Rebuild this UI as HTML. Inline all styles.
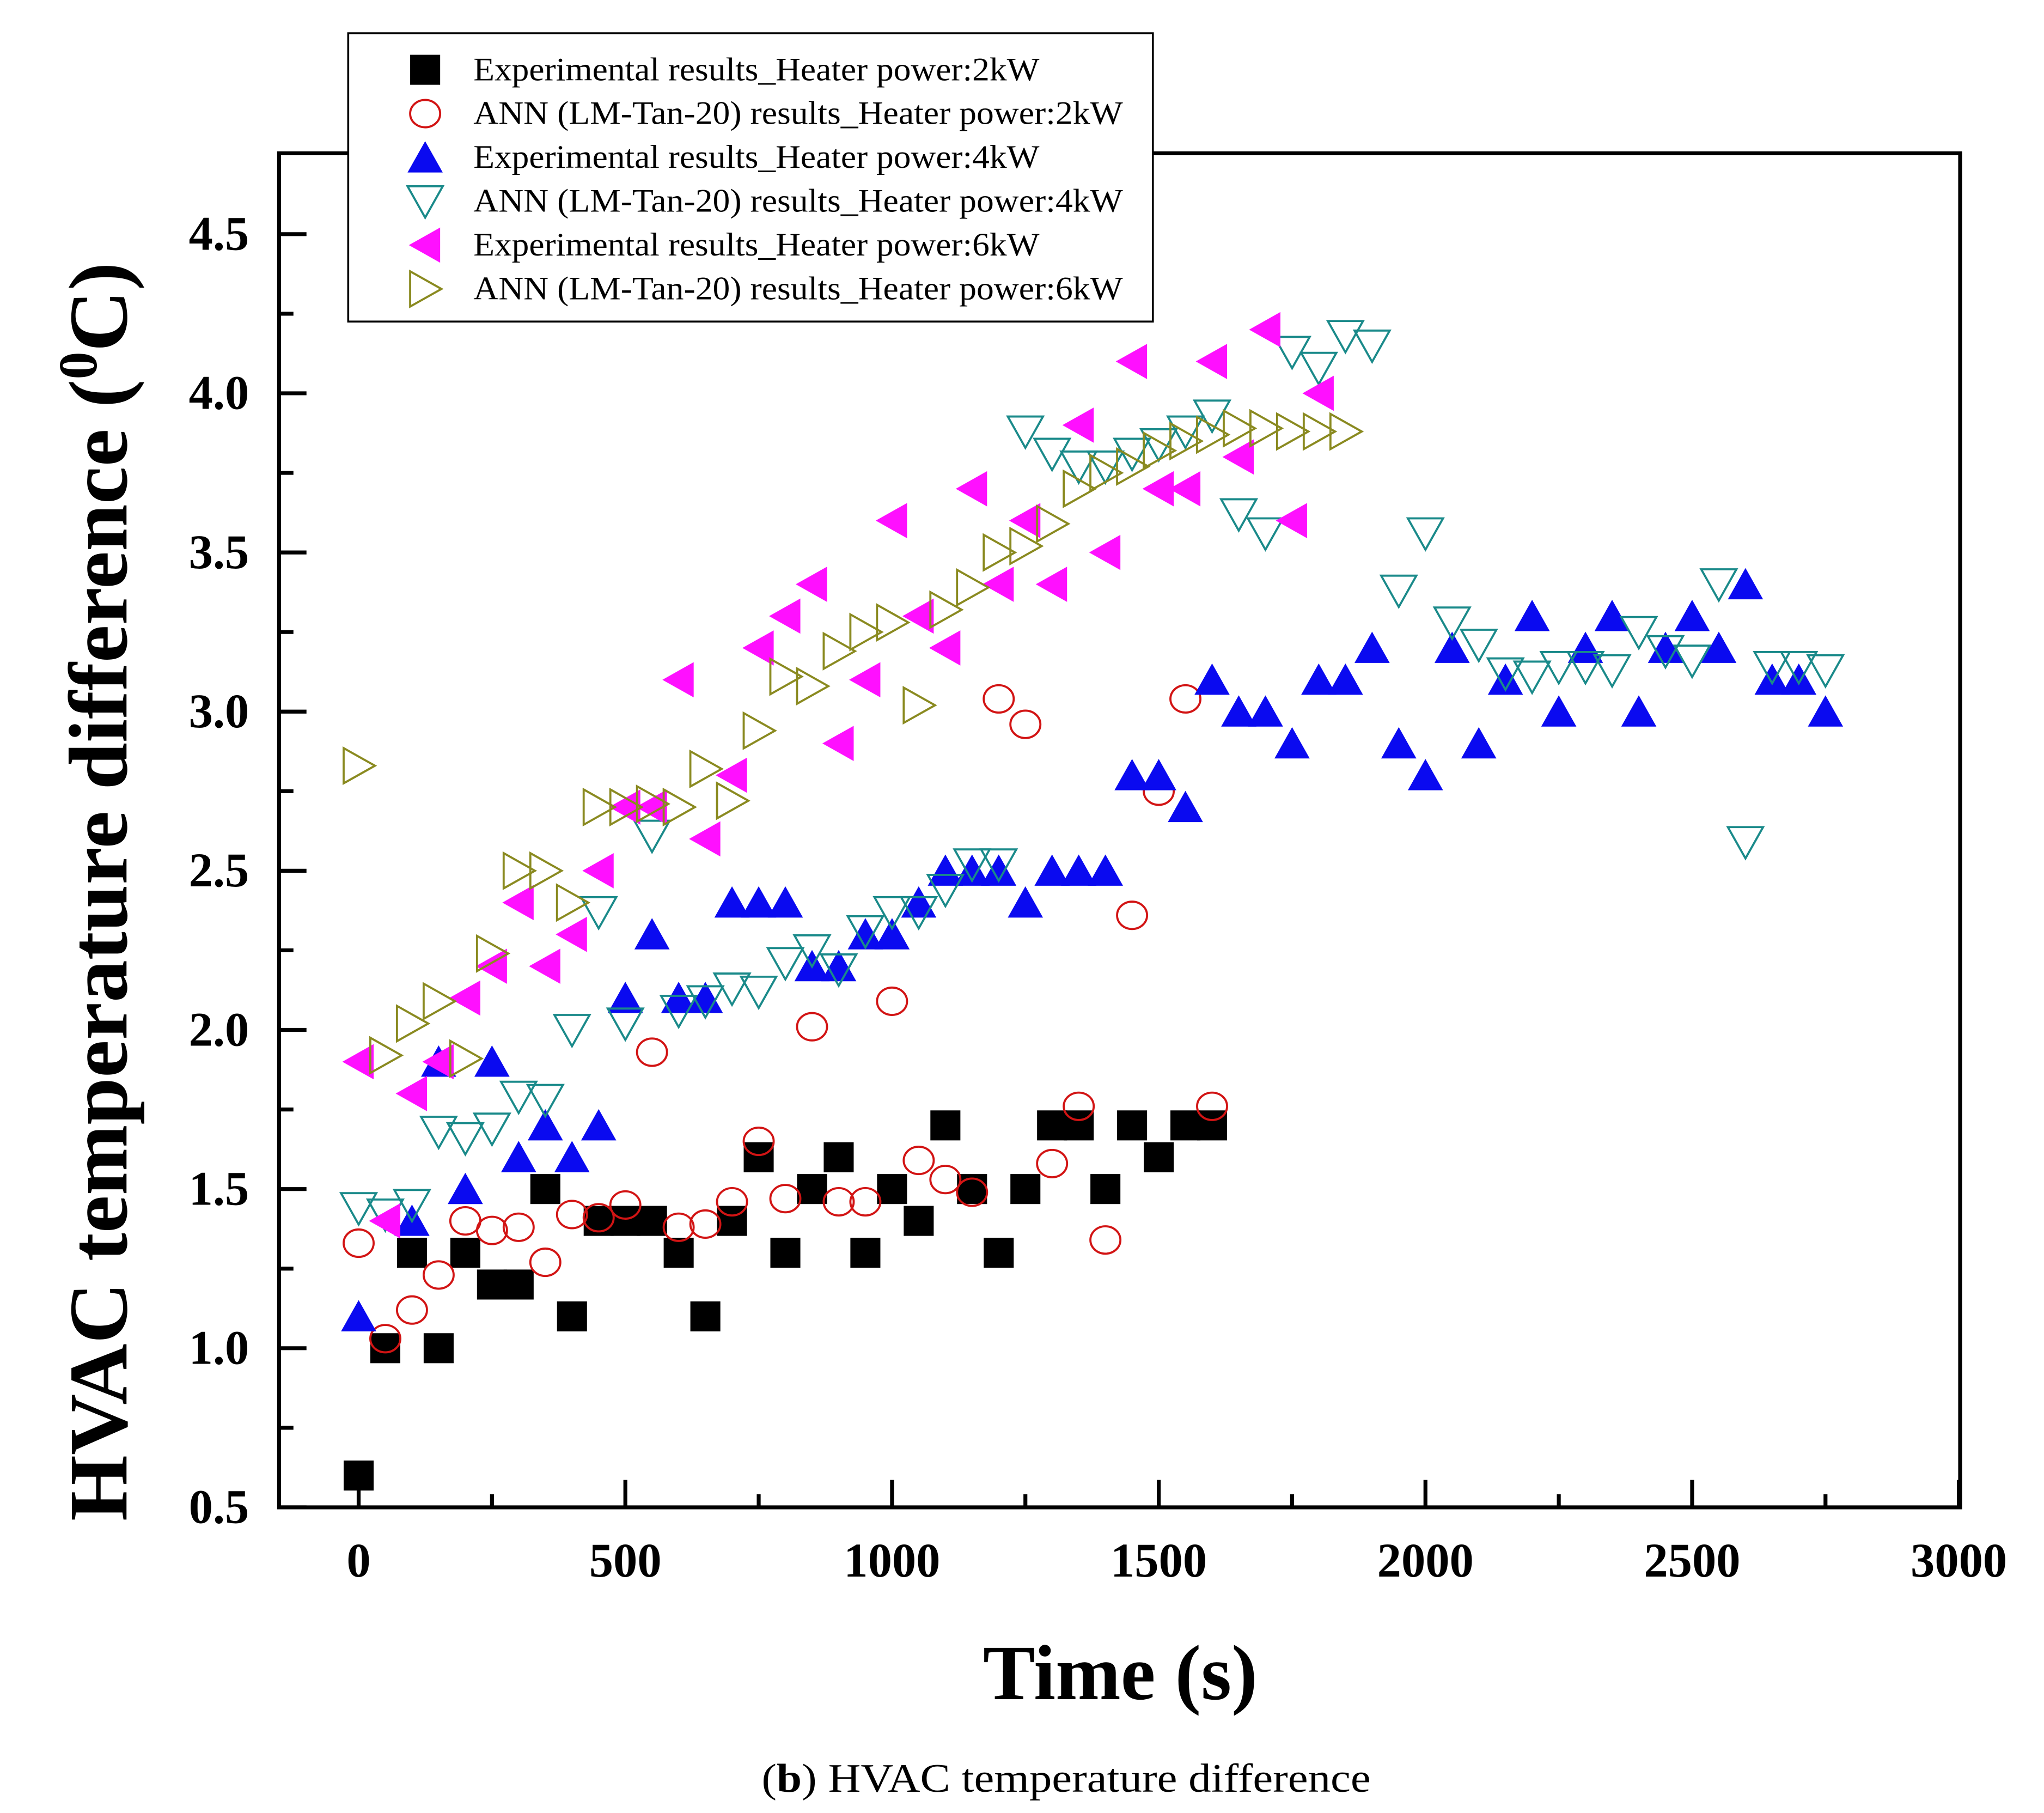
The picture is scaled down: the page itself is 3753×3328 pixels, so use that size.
<!DOCTYPE html>
<html><head><meta charset="utf-8"><style>
html,body{margin:0;padding:0;background:#fff}
svg{display:block}
text{font-family:"Liberation Serif",serif}
</style></head><body>
<svg id="chart" width="3753" height="3328" viewBox="-1 -0.5 1567.3 1389.8" preserveAspectRatio="none" xmlns="http://www.w3.org/2000/svg">
<rect x="-5" y="-5" width="1580" height="1400" fill="#fff"/>
<g id="marks"></g>
<rect x="213" y="117" width="1289" height="1038" fill="none" stroke="#000" stroke-width="3"/>
<g id="axes"></g>
<text transform="translate(96,683) rotate(-90)" text-anchor="middle" font-size="64" font-weight="bold" textLength="965" lengthAdjust="spacingAndGlyphs">HVAC temperature difference (<tspan font-size="42" dy="-23">0</tspan><tspan dy="23">C)</tspan></text>
<text x="858" y="1302" text-anchor="middle" font-size="60" font-weight="bold">Time (s)</text>
<text x="583" y="1373" font-size="31" textLength="467" lengthAdjust="spacingAndGlyphs">(<tspan font-weight="bold">b</tspan>) HVAC temperature difference</text>
<g>
<rect x="266" y="25" width="617" height="221" fill="#fff" stroke="#000" stroke-width="1.5"/>
<g id="legend-items"></g>
</g>
</svg>
<script>
const t2x=[0,50,100,150,200,250,300,350,400,450,500,550,600,650,700,750,800,850,900,950,1000,1050,1100,1150,1200,1250,1300,1350,1400,1450,1500,1550,1600];
const exp2=[0.6,1.0,1.3,1.0,1.3,1.2,1.2,1.5,1.1,1.4,1.4,1.4,1.3,1.1,1.4,1.6,1.3,1.5,1.6,1.3,1.5,1.4,1.7,1.5,1.3,1.5,1.7,1.7,1.5,1.7,1.6,1.7,1.7];
const ann2=[1.33,1.03,1.12,1.23,1.40,1.37,1.38,1.27,1.42,1.41,1.45,1.93,1.38,1.39,1.46,1.65,1.47,2.01,1.46,1.46,2.09,1.59,1.53,1.49,3.04,2.96,1.58,1.76,1.34,2.36,2.75,3.04,1.76];
const t4x=[0,100,150,200,250,300,350,400,450,500,550,600,650,700,750,800,850,900,950,1000,1050,1100,1150,1200,1250,1300,1350,1400,1450,1500,1550,1600,1650,1700,1750,1800,1850,1900,1950,2000,2050,2100,2150,2200,2250,2300,2350,2400,2450,2500,2550,2600,2650,2700,2750];
const exp4=[1.1,1.4,1.9,1.5,1.9,1.6,1.7,1.6,1.7,2.1,2.3,2.1,2.1,2.4,2.4,2.4,2.2,2.2,2.3,2.3,2.4,2.5,2.5,2.5,2.4,2.5,2.5,2.5,2.8,2.8,2.7,3.1,3.0,3.0,2.9,3.1,3.1,3.2,2.9,2.8,3.2,2.9,3.1,3.3,3.0,3.2,3.3,3.0,3.2,3.3,3.2,3.4,3.1,3.1,3.0];
const t4a=[0,50,100,150,200,250,300,350,400,450,500,550,600,650,700,750,800,850,900,950,1000,1050,1100,1150,1200,1250,1300,1350,1400,1450,1500,1550,1600,1650,1700,1750,1800,1850,1900,1950,2000,2050,2100,2150,2200,2250,2300,2350,2400,2450,2500,2550,2600,2650,2700,2750];
const ann4=[1.44,1.42,1.45,1.68,1.66,1.69,1.79,1.78,2.0,2.37,2.02,2.61,2.06,2.09,2.13,2.12,2.21,2.25,2.19,2.31,2.37,2.37,2.44,2.52,2.52,3.88,3.81,3.77,3.77,3.81,3.84,3.88,3.93,3.62,3.56,4.13,4.08,4.18,4.15,3.38,3.56,3.28,3.21,3.12,3.11,3.14,3.14,3.13,3.25,3.19,3.16,3.40,2.59,3.14,3.14,3.13];
const t6x=[0,50,100,150,200,250,300,350,400,450,500,550,600,650,700,750,800,850,900,950,1000,1050,1100,1150,1200,1250,1300,1350,1400,1450,1500,1550,1600,1650,1700,1750,1800];
const exp6=[1.9,1.4,1.8,1.9,2.1,2.2,2.4,2.2,2.3,2.5,2.7,2.7,3.1,2.6,2.8,3.2,3.3,3.4,2.9,3.1,3.6,3.3,3.2,3.7,3.4,3.6,3.4,3.9,3.5,4.1,3.7,3.7,4.1,3.8,4.2,3.6,4.0];
const t6a=[0,50,100,150,200,250,300,350,400,450,500,550,600,650,700,750,800,850,900,950,1000,1050,1100,1150,1200,1250,1300,1350,1400,1450,1500,1550,1600,1650,1700,1750,1800,1850];
const ann6=[2.83,1.92,2.02,2.09,1.91,2.24,2.5,2.5,2.4,2.7,2.7,2.71,2.7,2.82,2.72,2.94,3.11,3.08,3.19,3.25,3.28,3.02,3.32,3.39,3.5,3.52,3.59,3.7,3.75,3.77,3.82,3.85,3.87,3.89,3.89,3.88,3.88,3.88];
const xTicks=[0,500,1000,1500,2000,2500,3000];
const yTicks=[0.5,1.0,1.5,2.0,2.5,3.0,3.5,4.0,4.5];
const legendLabels=["Experimental results_Heater power:2kW","ANN (LM-Tan-20) results_Heater power:2kW","Experimental results_Heater power:4kW","ANN (LM-Tan-20) results_Heater power:4kW","Experimental results_Heater power:6kW","ANN (LM-Tan-20) results_Heater power:6kW"];
const legendWidths=[434,498,434,498,434,498];

const NS="http://www.w3.org/2000/svg";
const X=v=>274+v*(204.5/500);
const Y=v=>1155-(v-0.5)*244;
const S=11.5;
function shape(kind,cx,cy,parent){
  let el;
  if(kind==='sq'){el=document.createElementNS(NS,'rect');el.setAttribute('x',cx-S);el.setAttribute('y',cy-S);el.setAttribute('width',2*S);el.setAttribute('height',2*S);el.setAttribute('fill','#000');}
  else if(kind==='ci'){el=document.createElementNS(NS,'ellipse');el.setAttribute('cx',cx);el.setAttribute('cy',cy);el.setAttribute('rx',S);el.setAttribute('ry',10.5);el.setAttribute('fill','none');el.setAttribute('stroke','#d21414');el.setAttribute('stroke-width','1.6');}
  else{
    el=document.createElementNS(NS,'polygon');let p;
    if(kind==='up')p=[[cx,cy-S-1],[cx-S-2,cy+S],[cx+S+2,cy+S]];
    if(kind==='dn')p=[[cx,cy+S+1],[cx-S-2,cy-S],[cx+S+2,cy-S]];
    if(kind==='lt')p=[[cx-S-1,cy],[cx+S,cy-S-2],[cx+S,cy+S+2]];
    if(kind==='rt')p=[[cx+S+1,cy],[cx-S,cy-S-2],[cx-S,cy+S+2]];
    el.setAttribute('points',p.map(a=>a.join(',')).join(' '));
    const st={up:['#0a0af0','none'],dn:['none','#1a8a8a'],lt:['#ff10ff','none'],rt:['none','#8a8a20']}[kind];
    el.setAttribute('fill',st[0]);
    if(st[1]!=='none'){el.setAttribute('stroke',st[1]);el.setAttribute('stroke-width','1.6');}
  }
  parent.appendChild(el);return el;
}
const marks=document.getElementById('marks');
const series=[['sq',t2x,exp2,'exp-2kw'],['ci',t2x,ann2,'ann-2kw'],['up',t4x,exp4,'exp-4kw'],['dn',t4a,ann4,'ann-4kw'],['lt',t6x,exp6,'exp-6kw'],['rt',t6a,ann6,'ann-6kw']];
series.forEach(s=>{
  const g=document.createElementNS(NS,'g');
  
  
  marks.appendChild(g);
  s[1].forEach((t,i)=>{
    const el=shape(s[0],X(t),Y(s[2][i]),g);
    
    
  });
});
const axes=document.getElementById('axes');
function line(x1,y1,x2,y2,w){const l=document.createElementNS(NS,'line');l.setAttribute('x1',x1);l.setAttribute('y1',y1);l.setAttribute('x2',x2);l.setAttribute('y2',y2);l.setAttribute('stroke','#000');l.setAttribute('stroke-width',w);axes.appendChild(l);return l;}
function txt(x,y,s,anchor,size){const t=document.createElementNS(NS,'text');t.setAttribute('x',x);t.setAttribute('y',y);t.setAttribute('text-anchor',anchor);t.setAttribute('font-size',size);t.setAttribute('font-weight','bold');t.textContent=s;axes.appendChild(t);return t;}
xTicks.forEach(v=>{
  const l=line(X(v),1155,X(v),1134,3);
  
  
  const m=line(X(v+250),1155,X(v+250),1145,3);
  
  
  const t=txt(X(v),1208,String(v),'middle',37);
  
  
});
yTicks.forEach(v=>{
  const l=line(213,Y(v),234,Y(v),3);
  
  
  if(v<4.5){const m=line(213,Y(v+0.25),224,Y(v+0.25),3);
  
  }
  const t=txt(190,Y(v)+12,v.toFixed(1),'end',37);
  
  
});
const li=document.getElementById('legend-items');
const kinds=['sq','ci','up','dn','lt','rt'];
legendLabels.forEach((lab,i)=>{
  const y=53+i*33.6;
  const el=shape(kinds[i],325,y,li);
  
  
  const t=document.createElementNS(NS,'text');
  t.setAttribute('x',362);t.setAttribute('y',y+8);t.setAttribute('font-size',25);
  t.setAttribute('textLength',legendWidths[i]);t.setAttribute('lengthAdjust','spacingAndGlyphs');
  t.textContent=lab;
  
  
  li.appendChild(t);
});
</script>
</body></html>
